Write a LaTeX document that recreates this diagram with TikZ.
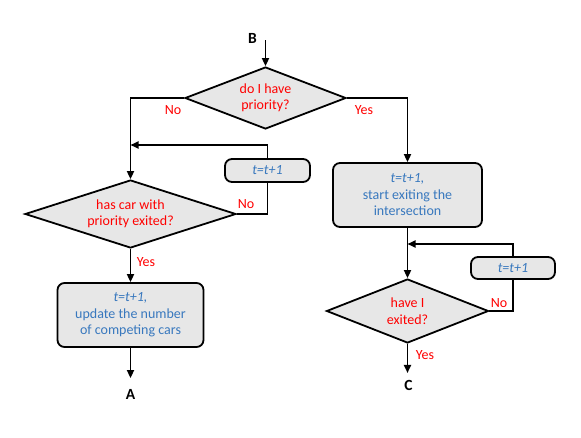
\documentclass[tikz,border=0pt]{standalone}
\usepackage{fontspec}
\setmainfont{Carlito}
\usetikzlibrary{shapes.geometric,arrows.meta}
\definecolor{lblred}{RGB}{255,0,0}
\definecolor{txtblue}{RGB}{56,120,190}
\definecolor{boxgray}{RGB}{231,231,231}
\begin{document}
\begin{tikzpicture}[x=1pt,y=-1pt,
  line width=1.8pt,
  arr/.style={-{Triangle[width=7pt,length=8pt]}},
  dec/.style={shape=diamond, draw, fill=boxgray, inner sep=0pt, aspect=2.5,
    text=lblred, align=center, font=\fontsize{14}{16.5}\selectfont},
  proc/.style={draw, rounded corners=7pt, fill=boxgray, text=txtblue,
    align=center, inner sep=0pt, font=\fontsize{14}{16.5}\selectfont},
  lbl/.style={text=lblred, font=\fontsize{14}{16}\selectfont},
  term/.style={inner sep=0pt, font=\bfseries\fontsize{15.5}{17}\selectfont}]
\path[use as bounding box] (0,0) rectangle (581,437);

% top branch
\node[term] (B) at (252.5,38) {B};
\coordinate (Bs) at (265.5,40);
\node[dec, minimum width=161pt, minimum height=62pt] (d1) at (265.5,98) {do I have\\priority?};
\draw[arr] (Bs) -- (d1.north);
\node[lbl] (no1) at (173,110) {No};
\node[lbl] (yes1) at (364,110) {Yes};

% left branch
\node[dec, minimum width=211pt, minimum height=68pt] (d2) at (130.5,214) {has car with\\priority exited?};
\node[proc, minimum width=85pt, minimum height=23pt] (t1) at (267.5,170.5) {\textit{t=t+1}};
\coordinate (j1) at (130.5,145);
\draw[arr] (d1.west) -| (d2.north);
\draw (d2.east) -| (t1.south);
\draw[arr] (t1.north) |- (j1);
\node[lbl] (no2) at (246,204) {No};
\node[lbl] (yes2) at (146,262) {Yes};
\node[proc, minimum width=146pt, minimum height=64pt] (p1) at (130.5,315) {\textit{t=t+1,}\\update the number\\of competing cars};
\draw[arr] (d2.south) -- (p1.north);
\node[term] (A) at (130.5,394) {A};
\draw[arr, shorten >=10pt] (p1.south) -- (A.north);

% right branch
\node[proc, minimum width=149pt, minimum height=64pt] (p2) at (407.5,195) {\textit{t=t+1,}\\start exiting the\\intersection};
\draw[arr] (d1.east) -| (p2.north);
\node[dec, minimum width=162pt, minimum height=64pt] (d3) at (407.5,311) {have I\\exited?};
\node[proc, minimum width=84pt, minimum height=22pt] (t2) at (513,268) {\textit{t=t+1}};
\coordinate (j2) at (407.5,244);
\draw[arr] (p2.south) -- (d3.north);
\draw (d3.east) -| (t2.south);
\draw[arr] (t2.north) |- (j2);
\node[lbl] (no3) at (499,303) {No};
\node[lbl] (yes3) at (425,355) {Yes};
\node[term] (C) at (408.5,385) {C};
\draw[arr] (d3.south) -- (d3.south |- C.north) [shorten >=6pt];
\end{tikzpicture}
\end{document}
